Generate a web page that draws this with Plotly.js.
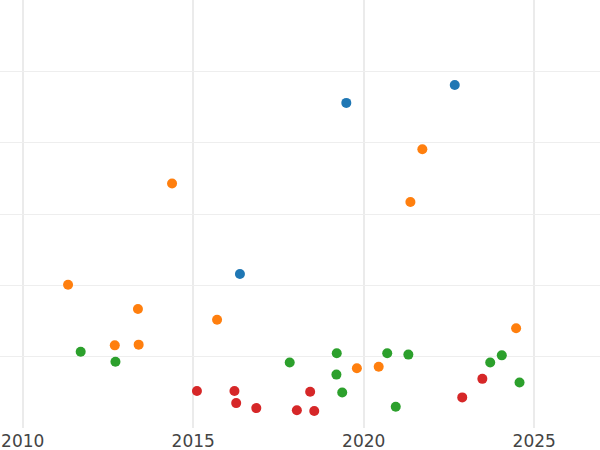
<!DOCTYPE html>
<html>
<head>
<meta charset="utf-8">
<script src="https://cdn.plot.ly/plotly-3.0.1.min.js"></script>
<style>html,body{margin:0;padding:0;background:#fff;}#chart{width:600px;height:450px;}</style>
</head>
<body>
<div id="chart"></div>
<script>
var blueX = [2019.49, 2022.67, 2016.37];
var blueY = [45.6, 48.1, 21.6];

var orangeX = [2011.33, 2014.38, 2013.38, 2012.70, 2013.40, 2015.70, 2021.72, 2021.37, 2019.80, 2020.44, 2024.47];
var orangeY = [20.1, 34.3, 16.7, 11.6, 11.7, 15.2, 39.1, 31.7, 8.4, 8.6, 14.0];

var greenX = [2011.70, 2012.72, 2017.83, 2019.21, 2019.20, 2019.37, 2020.69, 2021.31, 2020.94, 2023.71, 2024.05, 2024.57];
var greenY = [10.7, 9.3, 9.2, 10.5, 7.5, 5.0, 10.5, 10.3, 3.0, 9.2, 10.2, 6.4];

var redX = [2015.11, 2016.21, 2016.26, 2016.85, 2018.04, 2018.43, 2018.55, 2022.89, 2023.48];
var redY = [5.2, 5.2, 3.5, 2.8, 2.5, 5.1, 2.4, 4.3, 6.9];

var xTicks = [2010, 2015, 2020, 2025];

function tr(x, y, color) {
  return {x: x, y: y, type: 'scatter', mode: 'markers',
          marker: {color: color, size: 10, line: {width: 0}}, hoverinfo: 'x+y'};
}

var data = [
  tr(blueX, blueY, '#1f77b4'),
  tr(orangeX, orangeY, '#ff7f0e'),
  tr(greenX, greenY, '#2ca02c'),
  tr(redX, redY, '#d62728')
];

var layout = {
  width: 600, height: 450,
  margin: {l: 0, r: 0, t: 0, b: 22, pad: 0},
  paper_bgcolor: '#fff', plot_bgcolor: '#fff',
  showlegend: false,
  font: {family: 'DejaVu Sans', size: 17, color: '#444'},
  xaxis: {range: [2009.334, 2026.93], tickmode: 'array', tickvals: xTicks,
          ticktext: xTicks.map(String), showgrid: true, gridcolor: '#ebebeb', gridwidth: 2,
          zeroline: false, showline: false, ticks: '', ticklabelstandoff: 1,
          tickfont: {size: 17, color: '#444'}},
  yaxis: {range: [0.01, 60.03], dtick: 10, tick0: 0, showgrid: true, gridcolor: '#eeeeee', gridwidth: 1,
          zeroline: false, showline: false, showticklabels: false, ticks: ''}
};

Plotly.newPlot('chart', data, layout, {displayModeBar: false, staticPlot: true});
</script>
</body>
</html>
